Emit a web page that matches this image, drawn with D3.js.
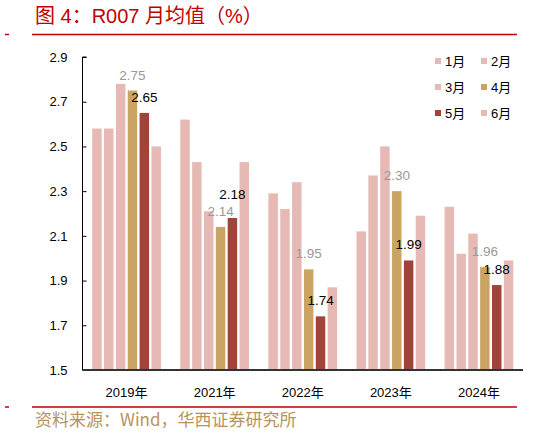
<!DOCTYPE html>
<html lang="zh">
<head>
    <meta charset="utf-8">
    <title>R007 月均值</title>
    <script src="https://cdn.jsdelivr.net/npm/d3@7"></script>
    <style>
        body { margin: 0; background: #fff; }
        text { font-family: "Liberation Sans", Arial, "Noto Sans CJK SC", sans-serif; }
    </style>
</head>
<body>
<script>
    // data
    var years = ["2019年", "2021年", "2022年", "2023年", "2024年"];
    var months = ["1月", "2月", "3月", "4月", "5月", "6月"];
    var jan = [2.58, 2.62, 2.29, 2.12, 2.23];
    var feb = [2.58, 2.43, 2.22, 2.37, 2.02];
    var mar = [2.78, 2.21, 2.34, 2.50, 2.11];
    var apr = [2.75, 2.14, 1.95, 2.30, 1.96];
    var may = [2.65, 2.18, 1.74, 1.99, 1.88];
    var jun = [2.50, 2.43, 1.87, 2.19, 1.99];
    var yTicks = [1.5, 1.7, 1.9, 2.1, 2.3, 2.5, 2.7, 2.9];

    var series = [jan, feb, mar, apr, may, jun];
    var colors = ["#e6b9b5", "#e6b9b5", "#e6b9b5", "#c9a463", "#a0443a", "#e6b9b5"];

    var W = 538, H = 434;
    var svg = d3.select("body").append("svg")
            .attr("width", W)
            .attr("height", H);

    // title + rules
    svg.append("text")
            .attr("x", 35).attr("y", 23)
            .attr("fill", "#c00000")
            .attr("font-size", 20)
            .style("font-family", "'Liberation Sans', 'Noto Sans CJK SC', sans-serif")
            .text("图 4：R007 月均值（%）");

    [34.5, 407].forEach(function(yy) {
        svg.append("line").attr("x1", 32).attr("x2", 517).attr("y1", yy).attr("y2", yy)
                .attr("stroke", "#c00000").attr("stroke-width", 1.5);
        svg.append("line").attr("x1", 5).attr("x2", 9).attr("y1", yy).attr("y2", yy)
                .attr("stroke", "#c00000").attr("stroke-width", 1.5);
    });

    svg.append("text")
            .attr("x", 35).attr("y", 426)
            .attr("fill", "#b8935a")
            .attr("font-size", 17)
            .style("font-family", "'Noto Sans CJK SC', sans-serif")
            .text("资料来源：Wind，华西证券研究所");

    // scales
    var pLeft = 82.5, pRight = 523, pTop = 57, pBottom = 370;
    var y = d3.scaleLinear().domain([1.5, 2.9]).range([pBottom, pTop]);
    var x0 = d3.scaleBand().domain(years).range([pLeft, pRight]).paddingInner(0.22).paddingOuter(0.11);
    var x1 = d3.scaleBand().domain(months).range([0, x0.bandwidth()]).paddingInner(0.2);

    // y axis, ticks pointing inward
    var yAxis = svg.append("g")
            .attr("transform", "translate(" + pLeft + ",0)")
            .call(d3.axisRight(y).tickValues(yTicks).tickSize(4).tickFormat(d3.format(".1f")));
    yAxis.select(".domain").attr("d", "M4," + pTop + "H0V" + pBottom).attr("stroke", "#000");
    yAxis.selectAll(".tick line").attr("stroke", "#000");
    yAxis.selectAll(".tick text")
            .attr("x", -15).attr("text-anchor", "end")
            .attr("font-size", 13).attr("fill", "#000")
            .style("font-family", "'Liberation Sans', Arial, sans-serif");

    // bars
    var groups = svg.selectAll("g.year")
            .data(years)
            .enter().append("g")
            .attr("class", "year")
            .attr("transform", function(d) { return "translate(" + x0(d) + ",0)"; });

    groups.selectAll("rect")
            .data(function(d, i) {
                return months.map(function(m, j) { return { m: m, j: j, v: series[j][i] }; });
            })
            .enter().append("rect")
            .attr("x", function(d) { return x1(d.m); })
            .attr("y", function(d) { return y(d.v); })
            .attr("width", x1.bandwidth())
            .attr("height", function(d) { return pBottom - y(d.v); })
            .attr("fill", function(d) { return colors[d.j]; });

    // x axis line and labels
    svg.append("line")
            .attr("x1", pLeft).attr("x2", pRight).attr("y1", pBottom).attr("y2", pBottom)
            .attr("stroke", "#333").attr("stroke-width", 2);

    svg.selectAll("text.xlab")
            .data(years)
            .enter().append("text")
            .attr("class", "xlab")
            .attr("x", function(d) { return x0(d) + x0.bandwidth() / 2; })
            .attr("y", 397)
            .attr("text-anchor", "middle")
            .attr("font-size", 13)
            .text(function(d) { return d; });

    // value labels: April in grey, May in black; May is pushed up if it would collide
    var fmt = d3.format(".2f");
    years.forEach(function(yr, i) {
        var gy = y(apr[i]) - 11;
        var by = y(may[i]) - 11;
        if (Math.abs(by - gy) < 14) by = gy - 17;
        svg.append("text")
                .attr("x", x0(yr) + x1("4月") + x1.bandwidth() / 2)
                .attr("y", gy)
                .attr("text-anchor", "middle")
                .attr("font-size", 13.5)
                .attr("fill", "#999")
                .text(fmt(apr[i]));
        svg.append("text")
                .attr("x", x0(yr) + x1("5月") + x1.bandwidth() / 2)
                .attr("y", by)
                .attr("text-anchor", "middle")
                .attr("font-size", 13.5)
                .attr("fill", "#000")
                .text(fmt(may[i]));
    });

    // legend, 2 columns x 3 rows
    var legend = svg.selectAll("g.leg")
            .data(months)
            .enter().append("g")
            .attr("class", "leg")
            .attr("transform", function(d, i) {
                return "translate(" + (435 + (i % 2) * 46) + "," + (61 + Math.floor(i / 2) * 26) + ")";
            });
    legend.append("rect")
            .attr("x", 0).attr("y", -3).attr("width", 6).attr("height", 6)
            .attr("fill", function(d, i) { return colors[i]; });
    legend.append("text")
            .attr("x", 10).attr("y", 5)
            .attr("font-size", 13)
            .text(function(d) { return d; });
</script>
</body>
</html>
